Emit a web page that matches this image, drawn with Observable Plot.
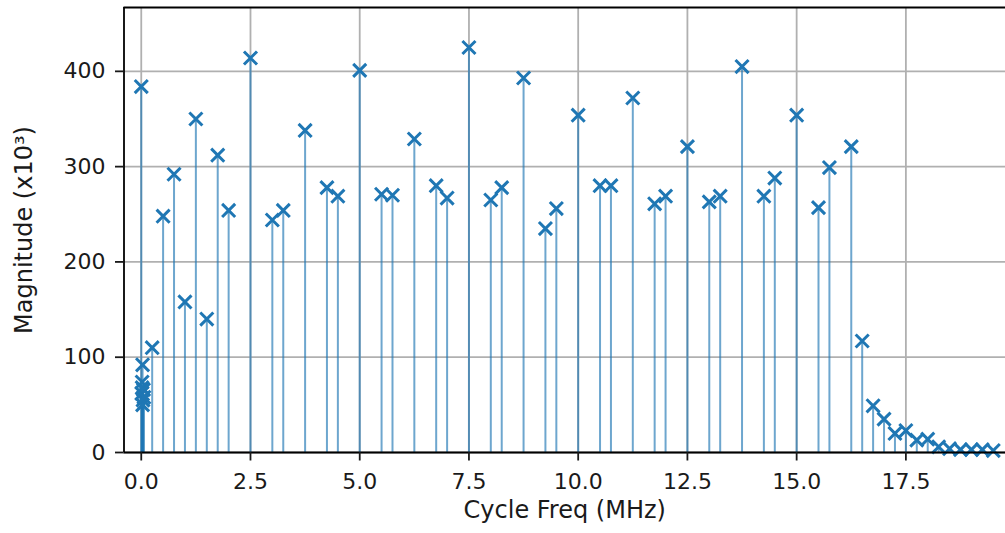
<!DOCTYPE html>
<html><head><meta charset="utf-8">
<script src="https://cdn.jsdelivr.net/npm/d3@7"></script>
<script src="https://cdn.jsdelivr.net/npm/@observablehq/plot@0.6"></script>
<style>body{margin:0;background:#fff}#chart{width:1005px;height:533px;overflow:hidden}</style>
</head><body><div id="chart"></div>
<script>
const freqs = [0, 0.01, 0.02, 0.02, 0.03, 0.03, 0.04, 0.05, 0.06,
  0.25, 0.5, 0.75, 1.0, 1.25, 1.5, 1.75, 2.0, 2.5,
  3.0, 3.25, 3.75, 4.25, 4.5, 5.0, 5.5, 5.75, 6.25, 6.75, 7.0, 7.5,
  8.0, 8.25, 8.75, 9.25, 9.5, 10.0, 10.5, 10.75, 11.25, 11.75, 12.0, 12.5,
  13.0, 13.25, 13.75, 14.25, 14.5, 15.0, 15.5, 15.75, 16.25,
  16.5, 16.75, 17.0, 17.25, 17.5, 17.75, 18.0, 18.25, 18.5, 18.75, 19.0, 19.25, 19.5];
const mags = [384, 62, 74, 68, 92, 50, 55, 66, 58,
  110, 248, 292, 158, 350, 140, 312, 254, 414,
  244, 254, 338, 278, 269, 401, 271, 270, 329, 280, 267, 425,
  265, 278, 393, 235, 256, 354, 280, 280, 372, 261, 269, 321,
  263, 269, 405, 269, 288, 354, 257, 299, 321,
  117, 49, 35, 20, 23, 13, 14, 6, 4, 3, 3, 3, 2];
const xTicks = [0, 2.5, 5, 7.5, 10, 12.5, 15, 17.5];
const yTicks = [0, 100, 200, 300, 400];
const xLabel = "Cycle Freq (MHz)";
const yLabel = "Magnitude (x10³)";

const data = freqs.map((f, i) => ({f, m: mags[i]}));
const xDomain = [-0.395, 19.78];
const yDomain = [0, 467];
const blue = "#1f77b4";
const gridColor = "#b0b0b0";

const chart = Plot.plot({
  width: 1005, height: 533,
  marginLeft: 123.5, marginRight: 0, marginTop: 7, marginBottom: 81,
  style: {fontFamily: "DejaVu Sans", fontSize: "22px", color: "#1a1a1a", background: "#fff"},
  x: {domain: xDomain},
  y: {domain: yDomain},
  marks: [
    Plot.gridX(xTicks, {stroke: gridColor, strokeOpacity: 1, strokeWidth: 1.8}),
    Plot.gridY(yTicks, {stroke: gridColor, strokeOpacity: 1, strokeWidth: 1.8}),
    Plot.ruleX(data, {x: "f", y1: 0, y2: "m", stroke: blue, strokeOpacity: 0.65, strokeWidth: 2}),
    Plot.dot(data, {x: "f", y: "m", symbol: "times", r: 6, stroke: blue, strokeWidth: 3}),
    Plot.ruleX([xDomain[0]], {stroke: "#000", strokeWidth: 1.8}),
    Plot.ruleY([yDomain[0]], {stroke: "#000", strokeWidth: 1.8}),
    Plot.ruleY([yDomain[1]], {stroke: "#000", strokeWidth: 1.8}),
    Plot.axisX(xTicks, {tickFormat: d3.format(".1f"), tickSize: 8.5, tickPadding: 12, strokeWidth: 1.8, fontSize: 22, label: null}),
    Plot.axisY(yTicks, {tickFormat: d3.format("d"), tickSize: 8.5, tickPadding: 10, strokeWidth: 1.8, fontSize: 22, label: null}),
    Plot.text([xLabel], {frameAnchor: "bottom", dy: 65, fontSize: 24, textAnchor: "middle"}),
    Plot.text([yLabel], {frameAnchor: "left", dx: -99.5, rotate: -90, fontSize: 24, textAnchor: "middle"})
  ]
});
document.getElementById("chart").appendChild(chart);
</script>
</body></html>
